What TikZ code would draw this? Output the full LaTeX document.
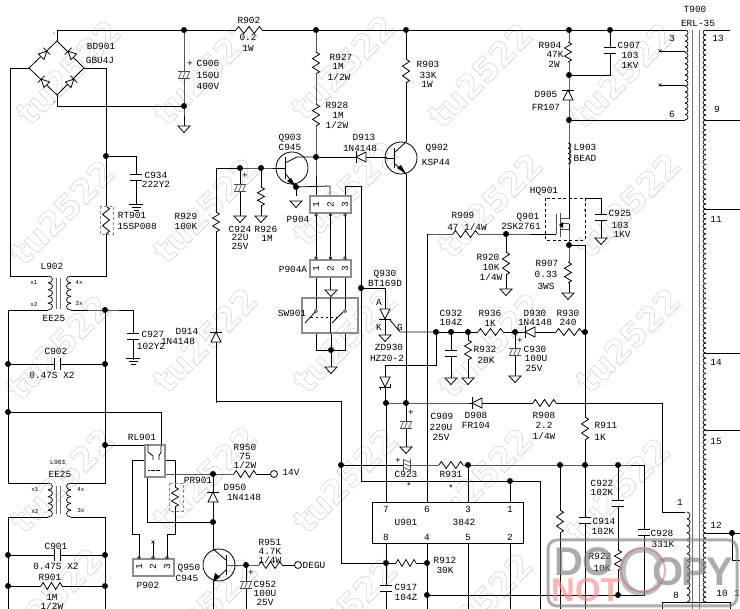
\documentclass[tikz,border=0pt]{standalone}
\usepackage{fontspec}
\setmainfont{Liberation Mono}
\newfontfamily\stampfont{Liberation Sans}
\newfontfamily\wmfont[FakeBold=1.2]{DejaVu Sans}
\newcounter{lb}
\tikzset{
  lab/.style={inner sep=0pt,font=\fontsize{9.4}{9.4}\selectfont,text=black},
  wire/.style={line width=0.8pt,black},
  greybox/.style={draw=black!45,line width=1.1pt,fill=white},
  gridbar/.style={draw=black!55,line width=1pt},
  dbox/.style={draw=black!45,line width=0.9pt,dashed,dash pattern=on 3pt off 2pt},
  fetbox/.style={draw=black,line width=0.8pt,dash pattern=on 3pt off 2.5pt},
  stampgrey/.style={inner sep=0pt,text=black!50,font=\stampfont\bfseries\fontsize{40}{40}\selectfont,opacity=0.65},
}
\newcommand\T[3][]{\stepcounter{lb}\node[lab,#1] (t\thelb) at (#2) {#3};}
\newcommand\Rv[3]{\pgfmathsetmacro\hh{#3-(#2)}
  \fill[white] (#1-4,#2) rectangle (#1+4,#3);
  \draw[wire,line join=miter] (#1,#2) -- ++(3.5,.1*\hh) -- ++(-7,.2*\hh) -- ++(7,.2*\hh) -- ++(-7,.2*\hh) -- ++(7,.2*\hh) -- ++(-3.5,.1*\hh);}
\newcommand\Rh[3]{\pgfmathsetmacro\hh{#2-(#1)}
  \fill[white] (#1,#3-4) rectangle (#2,#3+4);
  \draw[wire] (#1,#3) -- ++(.1*\hh,-3.5) -- ++(.2*\hh,7) -- ++(.2*\hh,-7) -- ++(.2*\hh,7) -- ++(.2*\hh,-7) -- ++(.1*\hh,3.5);}
\newcommand\Dio[4][1]{\begin{scope}[shift={(#2,#3)},rotate=#4,scale=#1]
  \draw[wire,fill=white] (-5,-5) -- (5,0) -- (-5,5) -- cycle; \draw[wire] (5,-6) -- (5,6);\end{scope}}
\newcommand\Cv[2]{\fill[white] (#1-6,#2-3) rectangle (#1+6,#2+3);
  \draw[wire] (#1-6,#2-3) -- (#1+6,#2-3) (#1-6,#2+3) -- (#1+6,#2+3);}
\newcommand\Ch[2]{\fill[white] (#1-3,#2-6) rectangle (#1+3,#2+6);
  \draw[wire] (#1-3,#2-6) -- (#1-3,#2+6) (#1+3,#2-6) -- (#1+3,#2+6);}
\newcommand\ECap[3]{\begin{scope}[shift={(#1,#2)},rotate=#3]
  \fill[white] (-6,-4) rectangle (6,4);
  \draw[line width=0.7pt,black!70] (-6,-3.5) -- (6,-3.5) (-6,3.5) -- (6,3.5)
   (-5.5,3.5) -- (-2.5,-3.5) (-1.5,3.5) -- (1.5,-3.5) (2.5,3.5) -- (5.5,-3.5);\end{scope}}
\newcommand\Gnd[2]{\draw[wire,fill=white] (#1-6,#2) -- (#1+6,#2) -- (#1,#2+6.5) -- cycle;}
\newcommand\Earth[2]{\draw[wire] (#1-7,#2) -- (#1+7,#2) (#1-4.5,#2+3) -- (#1+4.5,#2+3) (#1-2.5,#2+6) -- (#1+2.5,#2+6);}
\newcommand\Coil[5]{\pgfmathsetmacro\cst{(#3-(#2))/#4}
  \foreach \i in {1,...,#4}{\pgfmathsetmacro\cya{#2+(\i-1)*\cst}\pgfmathsetmacro\cyb{\cya+\cst}
    \draw[wire,line width=0.7pt] (#1,\cya) .. controls (#1+#5,\cya) and (#1+#5,\cyb) .. (#1,\cyb);}}
\newcommand\Tor[2]{\draw[wire] (#1,#2) circle (16);}
\newcommand\Conn[3]{\draw[greybox] (#1,#2) rectangle ++(41,17);
  \T[rotate=90]{#1+6,#2+8.5}{1}\T[rotate=90]{#1+20.5,#2+8.5}{2}\T[rotate=90]{#1+35,#2+8.5}{3}
  \foreach \dx in {6,20.5,35}{\draw[line width=0.6pt,black!80] (#1+\dx,#3) circle (1.4);}}
\newcommand\WM[2]{\stepcounter{lb}
  \node[rotate=45,inner sep=0pt,font=\wmfont\bfseries\fontsize{33}{33}\selectfont] (w\thelb) at (#1,#2) {\special{pdf:bcolor [1] [0.78]}tu2522\special{pdf:ecolor}};}
\begin{document}
\begin{tikzpicture}[x=1pt,y=-1pt]
\useasboundingbox (0,0) rectangle (740,609);
\fill[white] (0,0) rectangle (740,609);
\clip (0,0) rectangle (740,609);
% watermarks
\foreach \wx/\wy in {68/72,205/72,343/67,480/75,622/75,
  62/212,205/210,345/193,490/205,628/205,
  58/347,205/340,345/340,490/345,628/340,
  62/480,205/478,345/480,480/480,618/490,
  50/600,205/610,345/610,480/605}{\WM{\wx}{\wy}}
% junction coordinates
\foreach \n/\x/\y in {brT/57/41,brL/29/68,brR/84/68,brB/57/95,
  railA/184/30,railB/316/30,railC/406/30,railD/569/30,railE/610/30,railF/685/30,
  lowA/184/106,rtJ/106/156,
  baseA/240/168,baseB/261/168,q3c/316/157,q3e/296/187,
  q2e/406/174,r4b/569/75,d6/569/120,srcJ/569/245,gateJ/506/234,
  swJ/331/350,sJ/361/288,
  gJ/436/332,c32/451/332,r32/468/332,d30/515/332,r30/585/332,
  v1/386/403,v2/406/403,
  c23J/341/465,pin3J/468/465,fbA/560/465,fbB/585/465,fbC/618/465,
  pin1J/510/481,
  p8J/386/563,p4J/427/563,gndJ/427/595,gndK/618/595,
  lA/8/364,lB/105/364,lC/8/412,lD/105/445,lE/105/310,
  lF/8/555,lG/105/555,lH/8/586,lI/105/586,
  d50/213/474,d50b/213/522,q5b/246/565,j12/732/533}
  {\coordinate (\n) at (\x,\y);}
\begin{scope}[wire]
% bridge and mains
\draw (brT) -- (brR) -- (brB) -- (brL) -- cycle;
\draw (brT) -- (57,30) -- (railF);
\draw (brB) -- (57,106) -- (lowA);
\draw (railA) -- (lowA) -- (184,126);
\draw (brL) -- (10,68) -- (10,276) -- (48,276);
\draw (brR) -- (106,68) -- (106,276) -- (71,276);
\draw (rtJ) -- (136,156) -- (136,204);
\draw (8,310) -- (48,310) (71,310) -- (lE) -- (133,310) -- (133,360);
\draw (8,310) -- (8,483) -- (48,483);
\draw (lE) -- (105,483) -- (71,483);
\draw (lA) -- (lB);
\draw (lC) -- (161,412) -- (161,445);
\draw (lD) -- (145,445);
\draw (8,517) -- (48,517) (71,517) -- (105,517);
\draw (8,517) -- (8,609) (105,517) -- (105,609);
\draw (lF) -- (lG) (lH) -- (lI);
% relay and connector
\draw (145,460) -- (132,460) -- (132,534) -- (139,534) -- (139,558);
\draw (165,460) -- (175,460) -- (175,534) -- (167,534) -- (167,558);
\draw (153,558) -- (153,543);
\draw (147,478) -- (147,522) -- (d50b);
\draw (165,474) -- (d50) -- (274,474) (d50) -- (213,549);
\draw (213,582) -- (213,609);
\draw (226,565) -- (q5b) -- (295,565);
\draw (q5b) -- (246,609);
% top rail verticals
\draw (railB) -- (q3c) -- (316,196);
\draw (railC) -- (406,142);
\draw (q3c) -- (386,157) -- (386,158) -- (394,158);
\draw (q2e) -- (406,403);
\draw (216,403) -- (216,168) -- (baseB) -- (285,168);
\draw (216,401) -- (341,401) -- (341,563) -- (p8J);
\draw (baseA) -- (240,216) (baseB) -- (261,216);
\draw (q3e) -- (296,196);
\draw (q3e) -- (330,186) -- (330,196);
\draw (345,196) -- (345,186) -- (361,186) -- (361,481) -- (540,481) -- (540,609);
\draw (316,213) -- (316,260) (330.5,213) -- (330.5,260) (345,213) -- (345,260);
\draw (316,277) -- (316,298) (345,277) -- (345,298);
\draw (330.5,277) -- (330.5,290);
\draw (331,333) -- (swJ) (316,333) -- (316,350) -- (345,350) -- (345,333);
\draw (swJ) -- (331,370);
% SCR and zener
\draw (sJ) -- (385,288) -- (385,335);
\draw (gJ) -- (400,332) -- (390,320);
\draw (gJ) -- (436,365) -- (385,365) -- (385,403);
\draw (385,403) -- (v2) -- (533,403) (556,403) -- (662,403) -- (662,512) -- (685,512);
\draw (v1) -- (386,502);
\draw (v2) -- (406,447);
\draw (gJ) -- (r30);
\draw (c32) -- (451,378) (r32) -- (468,378) (d30) -- (515,376);
\draw (c23J) -- (pin3J) -- (fbC) -- (644,465) -- (644,595) -- (gndJ);
\draw (pin3J) -- (468,502);
\draw (pin1J) -- (510,502);
\draw (fbA) -- (560,609) (fbB) -- (585,609) (fbC) -- (gndK);
\draw (srcJ) -- (585,245) -- (fbB);
% IC lower
\draw (427,234) -- (427,502);
\draw (386,543) -- (386,609) (427,543) -- (427,609) (468,543) -- (468,609) (510,543) -- (510,609);
\draw (p8J) -- (p4J);
% gate, MOSFET, top right
\draw (427,234) -- (gateJ) -- (556,234);
\draw (gateJ) -- (506,289);
\draw (railD) -- (d6) -- (569,219);
\draw (r4b) -- (railE |- r4b) -- (railE);
\draw (d6) -- (685,120);
\draw (569,230) -- (srcJ) -- (569,293);
\draw (585,198) -- (601,198) -- (601,238);
% T900 wires
\draw (660,51) -- (685,51) (660,85) -- (685,85);
\draw (706,30) -- (730,30) (706,120) -- (740,120) (706,209) -- (740,209) (706,353) -- (740,353) (706,430) -- (740,430);
\draw (706,533) -- (740,533) (j12) -- (732,560) -- (740,560);
\draw (662,609) -- (662,602) -- (730,602) -- (730,609);
\end{scope}
% U901 box
\draw[wire,fill=white] (372,502) rectangle (523,543);
\T{386,509}{7}\T{427,509}{6}\T{468,509}{3}\T{510,509}{1}
\T{386,537}{8}\T{427,537}{4}\T{468,537}{5}\T{510,537}{2}
\T{406,522}{U901}\T{464,522}{3842}
% bridge diodes
\Dio[0.8]{44}{54}{45}\Dio[0.8]{71}{54}{135}\Dio[0.8]{44}{82}{135}\Dio[0.8]{71}{82}{45}
\fill (54,33) circle (0.6) (54,102) circle (0.6);
% transformers
\foreach \ty in {276,483}{
  \Coil{48}{\ty}{\ty+34}{5}{6}\Coil{71}{\ty}{\ty+34}{5}{-6}}
\draw[gridbar] (56,278) -- (56,309) (60,278) -- (60,309);
\draw[gridbar] (56,486) -- (56,514) (60,486) -- (60,514);
\draw[gridbar] (692,30) -- (692,609) (699,30) -- (699,609);
\Coil{685}{30}{120}{16}{4}
\Coil{687}{512}{602}{13}{4}
\Coil{706}{30}{120}{18}{-4}\Coil{706}{120}{209}{18}{-4}\Coil{706}{209}{353}{29}{-4}
\Coil{706}{353}{430}{15}{-4}\Coil{706}{430}{533}{21}{-4}\Coil{706}{533}{602}{14}{-4}
\Coil{568}{143}{164}{4}{4}
\foreach \tx/\ty in {660/51,660/85}{\draw[line width=0.6pt] (\tx-1.5,\ty-1.5) -- (\tx+1.5,\ty+1.5) (\tx-1.5,\ty+1.5) -- (\tx+1.5,\ty-1.5);}
\draw[line width=0.6pt] (151.5,540.5) -- (154.5,543.5) (151.5,543.5) -- (154.5,540.5);
% caps
\ECap{184}{75}{0}\ECap{240}{188}{0}\ECap{246}{585}{0}\ECap{406}{425}{0}\ECap{515}{352}{0}\ECap{407}{465}{90}
\Cv{136}{177}\Cv{133}{336}\Cv{451}{353}\Cv{610}{50}\Cv{601}{217}\Cv{618}{503}\Cv{585}{520}\Cv{644}{532}\Cv{386}{588}
\Ch{57}{364}\Ch{57}{555}
% resistors
\Rh{236}{262}{30}\Rv{316}{52}{74}\Rv{316}{104}{126}\Rv{406}{59}{83}
\Rv{261}{187}{206}\Rv{216}{212}{232}\Rv{106}{206}{234}
\Rh{41}{62}{586}\Rv{175}{487}{507}\Rh{234}{256}{474}\Rh{259}{282}{565}
\Rv{568}{42}{62}\Rh{453}{478}{234}\Rv{506}{252}{275}\Rv{568}{262}{283}
\Rh{478}{503}{332}\Rh{556}{582}{332}\Rv{468}{340}{360}\Rh{533}{556}{403}
\Rv{585}{417}{440}\Rh{439}{463}{465}\Rh{396}{416}{563}
\Rv{560}{510}{533}\Rv{618}{550}{570}
% diodes
\Dio{216}{337}{90}\Dio{213}{497}{90}\Dio{568}{95}{90}\Dio{361}{157}{180}
\Dio{477}{403}{180}\Dio{530}{332}{180}
\Dio{385}{314}{270}\Dio{385}{382}{270}
\draw[wire] (380,390) -- (380,387) (390,387) -- (390,384);
% grounds
\Gnd{184}{126}\Gnd{240}{216}\Gnd{261}{216}\Gnd{296}{201}\Gnd{331}{290}\Gnd{331}{367}
\Gnd{385}{335}\Gnd{406}{447}\Gnd{451}{378}\Gnd{468}{378}\Gnd{515}{376}\Gnd{506}{289}\Gnd{568}{293}\Gnd{601}{238}
\Earth{136}{204}\Earth{133}{358}
% transistors
\Tor{292}{168}\Tor{401}{158}\Tor{219}{565}
\begin{scope}[wire]
\draw[line width=1pt] (285,157) -- (285,179);
\draw (285,163) -- (297,157) -- (q3c) (285,173) -- (q3e);
\draw[line width=1pt] (394,148) -- (394,168);
\draw (394,153) -- (406,142) (394,163) -- (q2e);
\draw[line width=1pt] (226,555) -- (226,575);
\draw (226,560) -- (213,549) (226,570) -- (213,582);
\end{scope}
\fill (296,187) -- (287,181) -- (291,178) -- cycle;
\fill (406,174) -- (397,168) -- (401,165) -- cycle;
\fill (213,582) -- (215,573) -- (220,577) -- cycle;
% connectors, switch, relay
\Conn{310}{196}{215}
\Conn{310}{260}{258}
\draw[greybox] (133,559) rectangle (174,576);
\T[rotate=90]{139,567}{1}\T[rotate=90]{153,567}{2}\T[rotate=90]{167,567}{3}
\foreach \dx in {139,153,167}{\draw[line width=0.6pt,black!80] (\dx,557.5) circle (1.4);}
\draw[greybox,fill=none] (302,298) rectangle (358,333);
\draw[wire] (330.5,298) -- (330.5,333) (316,298) -- (316,309) (345,298) -- (345,309);
\draw[wire] (305,323) -- (315,312) (332,323) -- (343,312);
\draw[line width=0.6pt] (316,311) circle (1.5) (345,311) circle (1.5);
\draw[line width=0.7pt,dash pattern=on 2pt off 3pt] (311,317) -- (337,317);
\draw[greybox,fill=none] (145,445) rectangle (165,477);
\draw[wire] (148,445) -- (148,452) -- (153,456) -- (153,460);
\draw[wire] (161,445) -- (161,452) -- (159,456) -- (159,460);
\draw[line width=0.7pt,dash pattern=on 2pt off 0.6pt] (148,470) -- (161,470);
\draw[dbox] (100,206) rectangle (113,234);
\draw[dbox] (169,483) rectangle (183,511);
% MOSFET
\draw[fetbox] (545,198) rectangle (585,240);
\draw[wire,line width=1pt,black!70] (556,214) -- (556,234) (560,213) -- (560,237);
\draw[wire,line width=1pt,black!70] (560,219) -- (569,219) (560,224) -- (569,224) (560,230) -- (569,230);
\draw[wire] (569,224) -- (569,230);
\fill (559,225) -- (563,222) -- (563,228) -- cycle;
\fill (585,210) circle (1);
% open ends
\draw[wire,fill=white] (274,474) circle (3.5) (298,565) circle (3.5);
% junction dots
\foreach \n in {railA,railB,railC,railD,railE,lowA,rtJ,baseA,baseB,q3c,q3e,srcJ,gateJ,swJ,sJ,r4b,d6,
  gJ,c32,r32,d30,r30,v1,v2,c23J,pin3J,fbA,fbB,fbC,pin1J,p8J,p4J,gndJ,gndK,lA,lB,lC,lD,lE,lF,lG,lH,lI,d50,d50b,q5b,j12}
  {\fill (\n) circle (3);}
% labels
\T{101,46}{BD901}\T{100,60}{GBU4J}\T{190,64}{+}\T{208,63}{C906}\T{208,75}{150U}\T{208,86}{400V}
\T{156,175}{C934}\T{156,184}{222Y2}\T{132,215}{RT901}\T{137,226}{15SP008}\T{52,266}{L902}
\T[font=\fontsize{6}{6}\selectfont]{34,283}{x1}\T[font=\fontsize{6}{6}\selectfont]{79,283}{4x}
\T[font=\fontsize{6}{6}\selectfont]{34,304}{x2}\T[font=\fontsize{6}{6}\selectfont]{79,304}{3x}
\T{186,216}{R929}\T{186,226}{100K}\T{245,176}{+}\T{240,229}{C924}\T{240,237}{22U}\T{240,246}{25V}\T{266,229}{R926}\T{267,238}{1M}
\T{249,20}{R902}\T{248,37}{0.2}\T{248,48}{1W}\T{341,57}{R927}\T{338,66}{1M}\T{339,77}{1/2W}
\T{337,105}{R928}\T{338,115}{1M}\T{337,125}{1/2W}\T{290,138}{Q903}\T{290,147}{C945}
\T{364,137}{D913}\T{360,148}{1N4148}\T{428,64}{R903}\T{428,75}{33K}\T{427,84}{1W}
\T{437,148}{Q902}\T{436,162}{KSP44}\T{298,219}{P904}\T{293,269}{P904A}
\T{385,274}{Q930}\T{385,283}{BT169D}\T{379,302}{A}\T{379,327}{K}\T{400,327}{G}\T{389,347}{ZD930}\T{387,358}{HZ20-2}
\T{292,313}{SW901}\T{187,331}{D914}\T{178,341}{1N4148}\T{54,318}{EE25}\T{153,334}{C927}\T{151,346}{102Y2}
\T{56,351}{C902}\T{52,375}{0.47S X2}\T{142,437}{RL901}\T[font=\fontsize{6.5}{6.5}\selectfont]{58,462}{L901}\T{60,474}{EE25}
\T[font=\fontsize{6}{6}\selectfont]{35,490}{x1}\T[font=\fontsize{6}{6}\selectfont]{81,490}{4x}
\T[font=\fontsize{6}{6}\selectfont]{35,511}{x2}\T[font=\fontsize{6}{6}\selectfont]{81,511}{3x}
\T{56,546}{C901}\T{56,566}{0.47S X2}\T{50,577}{R901}\T{52,597}{1M}\T{52,606}{1/2W}\T{148,585}{P902}
\T{198,480}{PR901}\T{235,487}{D950}\T{244,497}{1N4148}\T{245,447}{R950}\T{245,456}{75}\T{245,465}{1/2W}\T{291,472}{14V}
\T{189,568}{Q950}\T{187,578}{C945}\T{270,542}{R951}\T{270,551}{4.7K}\T{270,560}{1/4W}\T{314,565}{DEGU}
\T{251,573}{+}\T{265,584}{C952}\T{265,593}{100U}\T{265,602}{25V}
\T{411,413}{+}\T{442,416}{C909}\T{441,427}{220U}\T{441,437}{25V}\T{476,415}{D908}\T{476,425}{FR104}
\T{544,415}{R908}\T{544,425}{2.2}\T{544,436}{1/4W}\T{606,425}{R911}\T{600,437}{1K}
\T{451,313}{C932}\T{451,322}{104Z}\T{490,313}{R936}\T{490,323}{1K}\T{535,313}{D930}\T{535,322}{1N4148}\T{568,313}{R930}\T{568,322}{240}
\T{485,349}{R932}\T{486,360}{20K}\T{520,341}{+}\T{535,349}{C930}\T{536,358}{100U}\T{534,368}{25V}
\T{398,461}{+}\T{406,474}{C923}\T{409,486}{*}\T{451,474}{R931}\T{451,488}{*}\T{445,560}{R912}\T{445,570}{30K}
\T{406,587}{C917}\T{406,597}{104Z}\T{602,483}{C922}\T{602,492}{102K}\T{604,521}{C914}\T{603,531}{102K}
\T{662,533}{C928}\T{663,544}{331K}\T{600,556}{R922}\T{602,568}{10K}
\T{680,502}{1}\T{716,525}{12}\T{676,595}{8}\T{722,593}{10}\T{737,593}{1}
\T{695,9}{T900}\T{698,23}{ERL-35}\T{672,38}{3}\T{718,38}{13}\T{672,114}{6}\T{717,109}{9}\T{716,219}{11}\T{716,362}{14}\T{716,441}{15}
\T{550,45}{R904}\T{555,54}{47K}\T{554,64}{2W}\T{629,45}{C907}\T{630,55}{103}\T{630,65}{1KV}
\T{546,94}{D905}\T{546,107}{FR107}\T{585,147}{L903}\T{585,158}{BEAD}\T{544,191}{HQ901}\T{528,217}{Q901}\T{521,226}{2SK2761}
\T{463,215}{R909}\T{467,227}{47 1/4W}\T{620,213}{C925}\T{620,225}{103}\T{622,234}{1KV}
\T{488,257}{R920}\T{491,267}{10K}\T{491,277}{1/4W}\T{547,263}{R907}\T{546,274}{0.33}\T{546,286}{3WS}
% stamp
\draw[black!50,line width=3pt,rounded corners=9pt,opacity=0.65] (548,540) rectangle (737,606);
\node[stampgrey] (doTxt) at (584,562) {DO};
\node[stampgrey,text=red!45,font=\stampfont\bfseries\fontsize{33}{33}\selectfont] (notTxt) at (586,590) {NOT};
\draw[red!40,line width=2pt,opacity=0.8] (643,570) circle (22);
\node[stampgrey,font=\stampfont\fontsize{68}{68}\selectfont,opacity=0.5] (cTxt) at (641,572) {C};
\node[stampgrey] (oTxt) at (668,572) {O};
\node[stampgrey] (pTxt) at (695,572) {P};
\node[stampgrey] (yTxt) at (720,572) {Y};
\end{tikzpicture}
\end{document}
